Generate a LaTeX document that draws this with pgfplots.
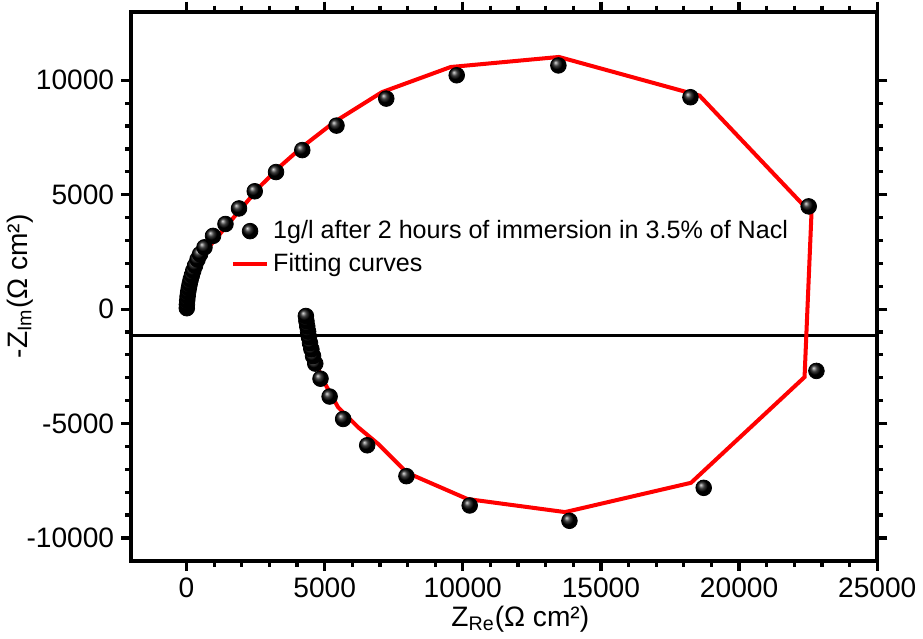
\documentclass[border=0pt]{standalone}
\usepackage{pgfplots}
\pgfplotsset{compat=1.18}
\usepackage{fontspec}
\setmainfont{Liberation Sans}
\begin{document}
\begin{tikzpicture}
\begin{axis}[
  scale only axis,
  width=371.5pt, height=273.5pt,
  xmin=-2000, xmax=25000,
  ymin=-11000, ymax=13000,
  xtick={0,5000,10000,15000,20000,25000},
  ytick={-10000,-5000,0,5000,10000},
  scaled ticks=false,
  minor tick num=4,
  tick align=outside,
  major tick length=5pt,
  minor tick length=3pt,
  every tick/.style={black, line width=1.6pt},
  axis line style={line width=2pt},
  /pgf/number format/fixed,
  /pgf/number format/1000 sep={},
  /pgf/number format/assume math mode=true,
  ticklabel style={font=\fontsize{14}{16}\selectfont},
  xlabel={Z\textsubscript{Re}(Ω cm²)},
  ylabel={-Z\textsubscript{Im}(Ω cm²)},
  label style={font=\fontsize{14}{16}\selectfont},
  xlabel style={yshift=3pt, xshift=8pt},
  ylabel style={yshift=-10pt},
  legend style={draw=none, fill=none, at={(0.125,0.635)}, anchor=north west,
    font=\fontsize{12.5}{14}\selectfont, row sep=2pt},
  legend cell align=left,
]
\addplot [black, line width=1.3pt, forget plot] coordinates {(-2000,-1150) (25000,-1150)};
\addplot [only marks, mark=ball, mark size=3.9pt, mark options={ball color=black}] coordinates {
(10,40) (15,200) (25,380) (40,560) (60,740) (85,920) (115,1100) (150,1290)
(195,1480) (245,1680) (310,1900) (400,2170) (490,2400) (650,2700) (960,3200)
(1410,3720) (1900,4400) (2470,5150) (3240,5990) (4190,6950) (5430,8020)
(7230,9200) (9780,10220) (13460,10650) (18240,9260) (22520,4490)
(22800,-2700) (18720,-7810) (13860,-9250) (10250,-8580) (7960,-7300)
(6540,-5950) (5670,-4800) (5180,-3820) (4850,-3040) (4660,-2380)
(4580,-2050) (4520,-1750) (4470,-1480) (4430,-1220) (4400,-980)
(4370,-750) (4340,-520) (4320,-300)
};
\addlegendentry{1g/l after 2 hours of immersion in 3.5\% of Nacl}
\addplot [red, line width=2pt, mark=none] coordinates {
(0,30) (60,600) (150,1100) (376,1880) (741,2610) (1350,3490) (1960,4370)
(2690,5400) (3400,6250) (4200,7100) (5365,8190) (7070,9480) (9560,10580)
(13480,11020) (18570,9330) (22620,4170) (22370,-2970) (18260,-7590)
(13700,-8870) (10170,-8300) (7980,-7150) (6946,-5900) (6216,-5167)
(5485,-4286) (4878,-2965) (4513,-1645) (4400,-1000) (4331,-400)
};
\addlegendentry{Fitting curves}
\end{axis}
\end{tikzpicture}
\end{document}
